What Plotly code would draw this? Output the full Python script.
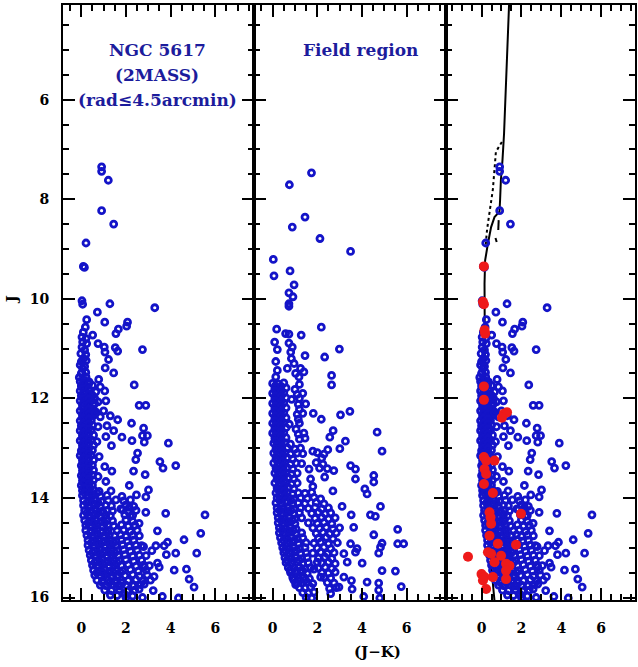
import plotly.graph_objects as go

# ---------------- data: (J-K, J) ----------------
cluster_stars = [
    (0.91,7.35),(0.91,7.44),(1.21,7.62),(0.91,8.23),(1.45,8.50),(0.21,8.88),(0.09,9.35),(0.14,9.37),
    (0.03,10.04),(0.06,10.11),(1.28,10.10),(3.29,10.18),(0.72,10.27),(0.24,10.42),(1.05,10.47),
    (2.07,10.47),(2.03,10.55),(1.66,10.61),(1.55,10.70),(0.18,10.57),(0.09,10.67),(0.03,10.77),
    (0.21,10.80),(0.06,10.87),(0.24,10.90),(0.03,10.97),(0.15,11.03),(0.51,10.73),(0.75,10.90),
    (1.03,10.97),(1.06,11.07),(1.52,10.98),(1.63,11.05),(2.74,11.02),(0.11,11.20),(1.22,11.22),
    (1.07,11.39),(0.06,11.40),(0.03,11.49),(0.21,11.57),(-0.09,11.58),(1.45,11.49),(0.78,11.62),
    (2.37,11.73),(2.59,12.14),(2.89,12.14),(2.25,12.50),(2.79,12.60),(1.63,12.43),(1.82,12.78),
    (2.27,12.85),(2.74,12.75),(2.96,12.75),(2.82,12.88),(3.90,12.90),(2.52,13.10),(2.44,13.23),
    (3.52,13.27),(3.66,13.40),(4.23,13.35),(2.34,13.46),(2.86,13.53),(1.37,13.46),(1.33,13.86),
    (2.15,13.75),(3.01,13.84),(2.89,13.98),(1.55,14.04),(1.82,13.97),(2.47,13.94),(2.89,14.29),
    (3.78,14.31),(5.54,14.34),(1.77,14.22),(2.15,14.19),(2.30,14.35),(2.59,14.51),(3.41,14.66),
    (5.35,14.71),(4.60,14.84),(3.34,14.96),(3.71,14.96),(3.86,14.89),(4.23,15.11),(5.17,15.11),
    (3.81,15.14),(3.16,15.06),(2.79,14.98),(3.41,15.31),(3.49,15.39),(2.82,15.39),(4.16,15.45),
    (4.71,15.43),(4.83,15.63),(5.05,15.79),(3.26,15.58),(3.63,15.98),(4.35,16.01),(3.22,15.86),
    (2.74,16.00),(2.00,16.00),(2.30,15.76),(2.59,15.83),(2.82,15.73),
    # dense sequence
    (-0.02,11.10),(0.20,11.12),(0.00,11.26),(0.22,11.24),(-0.05,11.33),(0.15,11.36),(0.00,11.50),(0.20,11.48),
    (-0.05,11.66),(0.15,11.64),(0.35,11.67),(0.00,11.75),(0.25,11.76),(0.50,11.74),(0.85,11.77),
    (-0.05,11.85),(0.15,11.86),(0.40,11.84),(0.65,11.87),(1.05,11.85),(0.00,11.95),(0.25,11.96),(0.50,11.94),
    (-0.05,12.05),(0.20,12.06),(0.45,12.04),(0.75,12.07),(1.10,12.05),(0.05,12.15),(0.30,12.16),(0.55,12.14),
    (-0.05,12.25),(0.20,12.26),(0.45,12.24),(0.65,12.27),(1.00,12.25),
    (0.05,12.35),(0.30,12.36),(0.55,12.34),(0.85,12.37),(1.30,12.35),(-0.05,12.45),(0.20,12.46),(0.45,12.44),
    (0.00,12.55),(0.25,12.56),(0.50,12.54),(0.75,12.57),(1.15,12.55),(-0.05,12.65),(0.20,12.66),(0.45,12.64),(1.45,12.65),
    (0.05,12.75),(0.30,12.76),(0.55,12.74),(1.10,12.77),(-0.05,12.85),(0.20,12.86),(0.45,12.84),(0.70,12.87),
    (0.05,12.95),(0.30,12.96),(0.55,12.94),(1.35,12.95),(0.00,13.05),(0.25,13.06),(0.50,13.04),
    (-0.05,13.15),(0.20,13.16),(0.45,13.14),(0.80,13.17),(0.05,13.25),(0.30,13.26),(0.55,13.24),
    (0.00,13.35),(0.25,13.36),(0.50,13.34),(1.05,13.37),(0.05,13.45),(0.30,13.46),(0.55,13.44),
    (0.00,13.55),(0.25,13.56),(0.50,13.54),(0.75,13.57),(0.05,13.65),(0.30,13.66),(0.55,13.64),(1.10,13.67),
    (0.00,13.75),(0.25,13.76),(0.50,13.74),(0.05,13.85),(0.30,13.86),(0.55,13.84),(0.80,13.87),
    (0.05,13.95),(0.30,13.96),(0.55,13.94),(0.85,13.97),(1.15,13.95),
    (0.10,14.05),(0.35,14.06),(0.60,14.04),(0.90,14.07),(1.20,14.05),(1.90,14.06),(2.20,14.04),
    (0.10,14.15),(0.35,14.16),(0.60,14.14),(0.85,14.17),(1.10,14.15),(1.35,14.16),(2.00,14.14),(2.35,14.17),
    (0.15,14.25),(0.40,14.26),(0.65,14.24),(0.90,14.27),(1.15,14.25),(1.40,14.26),(1.85,14.24),(2.10,14.27),(2.45,14.25),
    (0.10,14.35),(0.35,14.36),(0.60,14.34),(0.85,14.37),(1.10,14.35),(1.30,14.36),(1.95,14.34),(2.20,14.37),
    (0.15,14.45),(0.40,14.46),(0.65,14.44),(0.90,14.47),(1.15,14.45),(1.40,14.46),(2.00,14.44),(2.30,14.47),
    (0.20,14.55),(0.45,14.56),(0.70,14.54),(0.95,14.57),(1.20,14.55),(1.45,14.56),(1.80,14.54),(2.10,14.57),(2.40,14.55),
    (0.20,14.65),(0.45,14.66),(0.70,14.64),(0.95,14.67),(1.20,14.65),(1.60,14.66),(1.90,14.64),(2.20,14.67),(2.50,14.65),
    (0.25,14.75),(0.50,14.76),(0.75,14.74),(1.00,14.77),(1.25,14.75),(1.50,14.76),(1.75,14.74),(2.00,14.77),(2.30,14.75),(2.60,14.76),
    (0.30,14.85),(0.55,14.86),(0.80,14.84),(1.05,14.87),(1.30,14.85),(1.55,14.86),(1.80,14.84),(2.05,14.87),(2.35,14.85),
    (0.30,14.95),(0.55,14.96),(0.80,14.94),(1.05,14.97),(1.30,14.95),(1.55,14.96),(1.85,14.94),(2.15,14.97),(2.45,14.95),(2.70,14.96),
    (0.35,15.05),(0.60,15.06),(0.85,15.04),(1.10,15.07),(1.35,15.05),(1.60,15.06),(1.90,15.04),(2.20,15.07),(2.50,15.05),
    (0.40,15.15),(0.65,15.16),(0.90,15.14),(1.15,15.17),(1.40,15.15),(1.65,15.16),(1.95,15.14),(2.30,15.17),(2.60,15.15),(2.90,15.16),
    (0.45,15.25),(0.70,15.26),(0.95,15.24),(1.20,15.27),(1.45,15.25),(1.70,15.26),(2.00,15.24),(2.35,15.27),(2.70,15.25),
    (0.50,15.35),(0.75,15.36),(1.00,15.34),(1.25,15.37),(1.50,15.35),(1.80,15.36),(2.10,15.34),(2.45,15.37),(2.80,15.35),(3.05,15.36),
    (0.55,15.45),(0.80,15.46),(1.05,15.44),(1.30,15.47),(1.55,15.45),(1.85,15.46),(2.20,15.44),(2.55,15.47),(2.90,15.45),
    (0.60,15.55),(0.85,15.56),(1.10,15.54),(1.35,15.57),(1.65,15.55),(1.95,15.56),(2.30,15.54),(2.60,15.57),(2.95,15.55),
    (0.70,15.65),(0.95,15.66),(1.20,15.64),(1.50,15.67),(1.80,15.65),(2.10,15.66),(2.45,15.64),(2.75,15.67),(3.10,15.65),
    (0.85,15.75),(1.10,15.76),(1.40,15.74),(1.70,15.77),(2.00,15.75),(2.35,15.76),(2.65,15.74),
    (1.05,15.85),(1.35,15.86),(1.70,15.84),(2.05,15.87),(2.40,15.85),(1.30,15.95),(1.60,15.96),(1.95,15.94),(2.30,15.97),
    # filling of the crowded core
    (0.08,11.70),(0.33,11.71),(0.08,11.80),(0.33,11.81),(0.08,11.90),(0.33,11.91),(0.08,12.00),(0.33,12.01),(0.60,12.00),
    (0.08,12.10),(0.33,12.11),(0.60,12.10),(0.08,12.20),(0.33,12.21),(0.08,12.30),(0.33,12.31),(0.60,12.30),
    (0.08,12.40),(0.33,12.41),(0.08,12.50),(0.33,12.51),(0.08,12.60),(0.33,12.61),(0.08,12.70),(0.33,12.71),
    (0.08,12.80),(0.33,12.81),(0.08,12.90),(0.33,12.91),(0.08,13.00),(0.33,13.01),(0.08,13.10),(0.33,13.11),
    (0.08,13.20),(0.33,13.21),(0.08,13.30),(0.33,13.31),(0.08,13.40),(0.33,13.41),(0.08,13.50),(0.33,13.51),
    (0.10,13.60),(0.35,13.61),(0.10,13.70),(0.35,13.71),(0.12,13.80),(0.38,13.81),(0.15,13.90),(0.40,13.91),(0.70,13.90),
    (0.25,14.10),(0.50,14.10),(0.75,14.10),(0.25,14.30),(0.50,14.30),(0.75,14.30),(1.00,14.30),
    (0.30,14.50),(0.55,14.50),(0.80,14.50),(1.05,14.50),(0.40,14.70),(0.65,14.70),(0.90,14.70),(1.15,14.70),
    (0.45,14.90),(0.70,14.90),(0.95,14.90),(1.20,14.90),(1.45,14.90),(0.50,15.10),(0.75,15.10),(1.00,15.10),(1.25,15.10),(1.50,15.10),
    (0.60,15.30),(0.85,15.30),(1.10,15.30),(1.35,15.30),(1.60,15.30),(0.70,15.50),(0.95,15.50),(1.20,15.50),(1.45,15.50),(1.75,15.50),
    (0.95,15.70),(1.25,15.70),(1.55,15.70),(1.85,15.70),
]

field_stars = [
    (1.74,7.47),(0.75,7.71),(1.45,8.36),(0.88,8.56),(2.12,8.79),(3.49,9.05),(0.03,9.21),(0.78,9.44),
    (0.06,9.54),(0.96,9.72),(0.73,9.88),(0.91,9.96),(0.73,10.10),(0.73,10.15),(0.18,10.61),(0.58,10.70),
    (0.73,10.71),(1.28,10.73),(2.18,10.57),(0.09,10.87),(0.21,11.02),(0.73,10.89),(0.88,10.97),(2.99,11.01),
    (1.45,11.14),(2.33,11.17),(0.14,11.26),(0.21,11.44),(0.14,11.57),(0.81,11.07),(0.84,11.20),(0.96,11.30),
    (0.66,11.40),(1.25,11.40),(1.03,11.50),(1.40,11.47),(1.18,11.57),(2.64,11.54),
    (2.64,11.73),(1.48,12.11),(1.82,12.30),(2.18,12.42),(3.04,12.33),(3.46,12.26),(2.71,12.65),(2.56,12.78),
    (3.26,12.86),(4.68,12.68),(4.90,13.06),(1.80,13.06),(2.47,13.03),(3.01,13.01),(3.49,13.35),(3.71,13.42),
    (2.74,13.45),(2.33,13.58),(3.71,13.62),(4.53,13.55),(4.53,13.68),(4.13,13.82),(4.23,13.92),(2.70,13.86),
    (1.80,13.77),(1.63,13.42),(1.70,13.62),(3.11,14.17),(4.83,14.17),(4.38,14.34),(4.60,14.37),(3.52,14.34),
    (3.63,14.59),(5.60,14.63),(4.53,14.74),(4.90,14.91),(4.83,14.99),(5.60,14.92),(5.87,14.92),(3.71,15.09),
    (3.78,15.02),(4.75,15.11),(4.01,15.31),(4.90,15.46),(5.50,15.47),(5.76,15.78),(4.23,15.69),(4.75,15.71),
    (4.75,15.85),(3.53,15.66),(3.56,15.83),(4.08,15.98),(4.80,16.01),(3.19,15.59),(2.97,15.79),(3.19,15.12),
    (3.34,15.29),(3.49,14.92),(1.03,15.74),(1.85,15.43),(2.00,15.29),(2.15,15.59),
    # dense sequence
    (0.00,11.70),(0.25,11.71),(0.50,11.69),(1.20,11.72),(0.10,11.80),(0.35,11.81),(0.60,11.79),(1.00,11.82),
    (0.00,11.90),(0.25,11.91),(0.50,11.89),(1.10,11.92),(1.35,11.90),(0.10,12.00),(0.35,12.01),(0.60,11.99),(0.85,12.02),(1.20,12.00),
    (0.00,12.10),(0.25,12.11),(0.50,12.09),(1.15,12.12),(0.10,12.20),(0.35,12.21),(0.60,12.19),(1.20,12.22),
    (0.00,12.30),(0.25,12.31),(0.50,12.29),(1.10,12.32),(1.35,12.30),(0.10,12.40),(0.35,12.41),(0.60,12.39),(1.15,12.42),
    (0.00,12.50),(0.25,12.51),(0.50,12.49),(0.75,12.52),(1.20,12.50),(0.10,12.60),(0.35,12.61),(0.60,12.59),(1.05,12.62),
    (0.00,12.70),(0.25,12.71),(0.50,12.69),(1.15,12.72),(1.40,12.70),(0.10,12.80),(0.35,12.81),(0.60,12.79),(1.20,12.82),(1.45,12.80),
    (0.05,12.90),(0.30,12.91),(0.55,12.89),(0.80,12.92),(0.15,13.00),(0.40,13.01),(0.65,12.99),(1.00,13.02),(1.25,13.00),
    (0.05,13.10),(0.30,13.11),(0.55,13.09),(0.80,13.12),(1.10,13.10),(1.35,13.11),(2.00,13.09),(2.30,13.12),
    (0.15,13.20),(0.40,13.21),(0.65,13.19),(0.90,13.22),(2.20,13.20),
    (0.05,13.30),(0.30,13.31),(0.55,13.29),(0.80,13.32),(1.05,13.30),(1.30,13.31),(1.95,13.29),(2.25,13.32),
    (0.15,13.40),(0.40,13.41),(0.65,13.39),(0.90,13.42),(2.10,13.40),(2.45,13.41),
    (0.10,13.50),(0.35,13.51),(0.60,13.49),(0.85,13.52),(1.10,13.50),(0.20,13.60),(0.45,13.61),(0.70,13.59),(0.95,13.62),
    (0.10,13.70),(0.35,13.71),(0.60,13.69),(0.85,13.72),(1.10,13.70),(0.20,13.80),(0.45,13.81),(0.70,13.79),(0.95,13.82),
    (0.15,13.90),(0.40,13.91),(0.65,13.89),(0.90,13.92),(1.15,13.90),(1.45,13.91),(1.75,13.89),
    (0.20,14.00),(0.45,14.01),(0.70,13.99),(0.95,14.02),(1.25,14.00),(1.55,14.01),(1.85,13.99),(2.15,14.02),
    (0.15,14.10),(0.40,14.11),(0.65,14.09),(0.90,14.12),(1.15,14.10),(1.45,14.11),(1.95,14.09),(2.30,14.12),
    (0.20,14.20),(0.45,14.21),(0.70,14.19),(0.95,14.22),(1.25,14.20),(1.60,14.21),(1.90,14.19),(2.20,14.22),(2.50,14.20),
    (0.20,14.30),(0.45,14.31),(0.70,14.29),(0.95,14.32),(1.20,14.30),(1.75,14.31),(2.05,14.29),(2.35,14.32),(2.60,14.30),
    (0.25,14.40),(0.50,14.41),(0.75,14.39),(1.00,14.42),(1.30,14.40),(1.90,14.41),(2.20,14.39),(2.50,14.42),(2.80,14.40),
    (0.25,14.50),(0.50,14.51),(0.75,14.49),(1.00,14.52),(1.60,14.50),(2.00,14.51),(2.30,14.49),(2.65,14.52),
    (0.30,14.60),(0.55,14.61),(0.80,14.59),(1.05,14.62),(1.80,14.60),(2.10,14.61),(2.40,14.59),(2.70,14.62),(3.00,14.60),
    (0.30,14.70),(0.55,14.71),(0.80,14.69),(1.05,14.72),(1.30,14.70),(1.95,14.71),(2.25,14.69),(2.55,14.72),(2.85,14.70),
    (0.35,14.80),(0.60,14.81),(0.85,14.79),(1.10,14.82),(1.35,14.80),(2.05,14.81),(2.40,14.79),(2.70,14.82),
    (0.40,14.90),(0.65,14.91),(0.90,14.89),(1.15,14.92),(1.50,14.90),(1.85,14.91),(2.15,14.89),(2.50,14.92),(2.90,14.90),
    (0.45,15.00),(0.70,15.01),(0.95,14.99),(1.20,15.02),(1.45,15.00),(2.00,15.01),(2.30,14.99),(2.60,15.02),
    (0.50,15.10),(0.75,15.11),(1.00,15.09),(1.25,15.12),(1.50,15.10),(1.80,15.11),(2.15,15.09),(2.45,15.12),(2.75,15.10),
    (0.55,15.20),(0.80,15.21),(1.05,15.19),(1.30,15.22),(1.55,15.20),(2.05,15.21),(2.35,15.19),(2.65,15.22),
    (0.60,15.30),(0.85,15.31),(1.10,15.29),(1.35,15.32),(1.60,15.30),(2.20,15.31),(2.50,15.29),(2.80,15.32),
    (0.70,15.40),(0.95,15.41),(1.20,15.39),(1.45,15.42),(1.70,15.40),(2.05,15.41),(2.35,15.39),(2.65,15.42),
    (0.80,15.50),(1.05,15.51),(1.30,15.49),(1.55,15.52),(2.20,15.50),(2.50,15.51),(2.80,15.49),
    (0.90,15.60),(1.15,15.61),(1.40,15.59),(1.65,15.62),(2.30,15.60),(2.60,15.61),
    (1.05,15.70),(1.30,15.71),(1.55,15.69),(1.80,15.72),(2.45,15.70),(2.75,15.71),
    (1.20,15.80),(1.45,15.81),(1.70,15.79),(2.55,15.82),(2.85,15.80),(1.35,15.90),(1.60,15.91),(1.85,15.89),(2.60,15.92),
    (1.50,16.00),(1.75,16.01),
    # filling of the crowded core
    (0.12,11.75),(0.38,11.76),(0.12,11.85),(0.38,11.86),(0.12,11.95),(0.38,11.96),(0.12,12.05),(0.38,12.06),
    (0.12,12.15),(0.38,12.16),(0.12,12.25),(0.38,12.26),(0.12,12.35),(0.38,12.36),(0.12,12.45),(0.38,12.46),
    (0.12,12.55),(0.38,12.56),(0.12,12.65),(0.38,12.66),(0.12,12.75),(0.38,12.76),(0.15,12.85),(0.40,12.86),
    (0.18,12.95),(0.42,12.96),(0.18,13.05),(0.42,13.06),(0.20,13.15),(0.45,13.16),(0.20,13.25),(0.45,13.26),
    (0.22,13.35),(0.48,13.36),(0.22,13.45),(0.48,13.46),(0.25,13.55),(0.50,13.56),(0.25,13.65),(0.50,13.66),
    (0.28,13.75),(0.52,13.76),(0.28,13.85),(0.52,13.86),(0.30,13.95),(0.55,13.96),(0.32,14.05),(0.58,14.06),(0.82,14.05),
    (0.32,14.25),(0.58,14.26),(0.82,14.25),(0.38,14.45),(0.62,14.46),(0.88,14.45),(0.42,14.65),(0.68,14.66),(0.92,14.65),
    (0.48,14.85),(0.72,14.86),(0.98,14.85),(0.55,15.05),(0.82,15.06),(1.08,15.05),(0.65,15.25),(0.92,15.26),(1.18,15.25),
    (0.78,15.45),(1.05,15.46),(1.32,15.45),(0.95,15.65),(1.20,15.66),(1.45,15.65),
]

member_stars = [
    (0.12,9.35),(0.07,10.06),(0.12,10.11),(0.15,10.63),(0.18,10.70),(0.12,11.76),(0.12,12.03),
    (1.12,12.31),(1.28,12.28),(1.02,12.39),(0.12,13.18),(0.23,13.25),(0.65,13.25),(0.15,13.42),
    (0.23,13.52),(0.12,13.72),(0.57,13.90),(1.98,14.32),(0.40,14.29),(0.45,14.39),(0.48,14.52),
    (0.40,14.76),(0.82,14.92),(1.73,14.94),(0.32,15.09),(0.48,15.12),(0.98,15.16),(-0.68,15.18),
    (0.65,15.29),(1.23,15.32),(1.40,15.36),(0.00,15.53),(0.15,15.59),(0.07,15.66),(0.23,15.83),
    (0.57,15.59),(1.23,15.63),(1.23,15.46),
]

iso_solid_jk = [1.40, 1.33, 1.25, 1.13, 1.05, 0.97, 0.93, 0.90, 0.65, 0.48, 0.32, 0.18, 0.15, 0.15, 0.17, 0.20, 0.25, 0.33, 0.45, 0.60, 0.68]
iso_solid_j  = [3.90, 4.67, 5.68, 6.68, 7.22, 7.62, 8.02, 8.25, 8.36, 8.56, 8.89, 9.23, 9.70, 10.5, 11.5, 12.5, 13.5, 14.5, 15.2, 15.8, 16.2]
iso_dot_jk = [1.02, 0.72, 0.57, 0.28, 0.20]
iso_dot_j  = [6.85, 7.05, 7.80, 8.60, 8.95]
iso_dash_jk = [0.86, 0.84, None, 0.70, 0.76]
iso_dash_j  = [8.42, 8.62, None, 8.78, 8.86]

x_ticks = [0, 2, 4, 6]
y_ticks = [6, 8, 10, 12, 14, 16]

BLUE = "#1414c8"
RED = "#ee1a1a"
TXT = "#1c1c9c"
FONT = "DejaVu Serif"

fig = go.Figure()

def blue_trace(stars, xa, ya):
    return go.Scatter(x=[s[0] for s in stars], y=[s[1] for s in stars], mode="markers",
                      xaxis=xa, yaxis=ya, hoverinfo="skip",
                      marker=dict(symbol="circle-open", size=6, color=BLUE, line=dict(width=2.8, color=BLUE)))

fig.add_trace(blue_trace(cluster_stars, "x", "y"))
fig.add_trace(blue_trace(field_stars, "x2", "y2"))
fig.add_trace(go.Scatter(x=iso_solid_jk, y=iso_solid_j, mode="lines", xaxis="x3", yaxis="y3",
                         line=dict(color="black", width=2)))
fig.add_trace(go.Scatter(x=iso_dot_jk, y=iso_dot_j, mode="lines", xaxis="x3", yaxis="y3",
                         line=dict(color="black", width=2, dash="dot")))
fig.add_trace(go.Scatter(x=iso_dash_jk, y=iso_dash_j, mode="lines", xaxis="x3", yaxis="y3",
                         line=dict(color="black", width=2)))
fig.add_trace(blue_trace(cluster_stars, "x3", "y3"))
fig.add_trace(go.Scatter(x=[s[0] for s in member_stars], y=[s[1] for s in member_stars], mode="markers",
                         xaxis="x3", yaxis="y3",
                         marker=dict(symbol="circle", size=10, color=RED, line=dict(width=0))))

tickfont = dict(family=FONT, size=14, color="black", weight="bold")
common = dict(showline=True, linecolor="black", linewidth=2, mirror="allticks", ticks="inside",
              ticklen=12, tickwidth=2, tickcolor="black", showgrid=False, zeroline=False,
              tickfont=tickfont,
              minor=dict(ticks="inside", ticklen=6, tickwidth=1.5, tickcolor="black", dtick=0.5, showgrid=False))

xr = [-0.82, 7.75]
fig.update_layout(
    width=638, height=667, margin=dict(l=63, r=1, t=5, b=67),
    paper_bgcolor="white", plot_bgcolor="white", showlegend=False,
    xaxis=dict(domain=[0, 0.3345], range=xr, tickvals=x_ticks, anchor="y", ticklabelstandoff=14, **common),
    xaxis2=dict(domain=[0.3345, 0.669], range=xr, tickvals=x_ticks, anchor="y2", ticklabelstandoff=14, **common),
    xaxis3=dict(domain=[0.669, 1.0], range=[-1.8, 7.7], tickvals=x_ticks, anchor="y3", ticklabelstandoff=14, **common),
    yaxis=dict(range=[16.05, 4.1], tickvals=y_ticks, anchor="x", ticklabelstandoff=9, **common),
    yaxis2=dict(range=[16.05, 4.1], tickvals=y_ticks, anchor="x2", matches="y", showticklabels=False, **common),
    yaxis3=dict(range=[16.05, 4.1], tickvals=y_ticks, anchor="x3", matches="y", showticklabels=False, **common),
)

afont = dict(family=FONT, size=17, color=TXT, weight="bold")
for txt, yy in [("NGC 5617", 5.0), ("(2MASS)", 5.5), ("(rad≤4.5arcmin)", 6.0)]:
    fig.add_annotation(x=3.4, y=yy, xref="x", yref="y", text=txt, showarrow=False, font=afont,
                       bgcolor="white", xanchor="center", yanchor="middle")
fig.add_annotation(x=3.95, y=5.0, xref="x2", yref="y2", text="Field region", showarrow=False, font=afont,
                   xanchor="center", yanchor="middle")

lfont = dict(family=FONT, size=15, color="black", weight="bold")
fig.add_annotation(x=0.549, y=-0.0874, xref="paper", yref="paper", text="(J−K)", showarrow=False, font=lfont,
                   xanchor="center", yanchor="middle")
fig.add_annotation(x=-0.0889, y=0.504, xref="paper", yref="paper", text="J", showarrow=False, font=lfont,
                   textangle=-90, xanchor="center", yanchor="middle")

fig.write_html("out.html", config={"displayModeBar": False},
               post_script="document.body.style.margin='0px';document.body.style.overflow='hidden';")
